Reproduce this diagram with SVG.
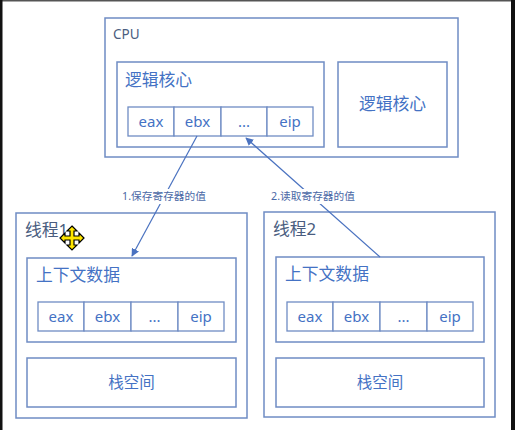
<svg xmlns="http://www.w3.org/2000/svg" width="515" height="430" viewBox="0 0 515 430">
<style>
.box{fill:#ffffff;stroke:#6F8CC4;stroke-width:1.5}
.cell{fill:#ffffff;stroke:#6F8CC4;stroke-width:1.3}
.t{font-family:"Noto Sans","Noto Sans CJK SC",sans-serif;fill:#4472C4}
.title{font-family:"Noto Sans","Noto Sans CJK SC",sans-serif;fill:#4A5D80}
.reg{font-size:15px;text-anchor:middle}
.lbl{font-family:"Noto Sans","Noto Sans CJK SC",sans-serif;font-size:10.7px;fill:#4A68A6;text-anchor:middle}
.conn{stroke:#4A72C0;stroke-width:1.2;fill:none}
</style>
<defs>
<marker id="ah" viewBox="0 0 10 10" refX="9" refY="5" markerWidth="8" markerHeight="8" orient="auto" markerUnits="userSpaceOnUse">
<path d="M0,0 L10,5 L0,10 z" fill="#4A72C0"/>
</marker>
</defs>
<rect x="0" y="0" width="515" height="430" fill="#ffffff"/>
<rect x="0" y="0" width="515" height="1.5" fill="#555"/>
<rect x="0" y="0" width="2.5" height="430" fill="#111"/>
<rect x="511" y="0" width="4" height="430" fill="#111"/>

<g id="cpu">
<rect class="box" x="105" y="18" width="353" height="139"/>
<text class="title" x="113" y="39" font-size="13.5">CPU</text>
</g>
<g id="core1">
<rect class="box" x="117" y="62" width="207" height="85"/>
<text class="t" x="125" y="86" font-size="16.8">逻辑核心</text>
<rect class="cell" x="128" y="107" width="46" height="29"/>
<rect class="cell" x="174" y="107" width="47" height="29"/>
<rect class="cell" x="221" y="107" width="46" height="29"/>
<rect class="cell" x="267" y="107" width="46" height="29"/>
<text class="t reg" x="151" y="127">eax</text>
<text class="t reg" x="197.5" y="127">ebx</text>
<text class="t reg" x="244" y="127">...</text>
<text class="t reg" x="290" y="127">eip</text>
</g>
<g id="core2">
<rect class="box" x="338" y="62" width="109" height="85"/>
<text class="t" x="392.5" y="110" font-size="16.8" text-anchor="middle">逻辑核心</text>
</g>

<g id="thread1">
<rect class="box" x="16" y="213" width="231" height="205"/>
<text class="title" x="25" y="236" font-size="16.8">线程1</text>
<rect class="box" x="27" y="258" width="209" height="84"/>
<text class="t" x="36" y="281" font-size="16.8">上下文数据</text>
<rect class="cell" x="38" y="302" width="46" height="29"/>
<rect class="cell" x="84" y="302" width="47" height="29"/>
<rect class="cell" x="131" y="302" width="47" height="29"/>
<rect class="cell" x="178" y="302" width="46" height="29"/>
<text class="t reg" x="61" y="322">eax</text>
<text class="t reg" x="107.5" y="322">ebx</text>
<text class="t reg" x="154.5" y="322">...</text>
<text class="t reg" x="201" y="322">eip</text>
<rect class="box" x="27" y="358" width="209" height="49"/>
<text class="t" x="131.5" y="388" font-size="15.5" text-anchor="middle">栈空间</text>
</g>

<g id="thread2">
<rect class="box" x="264" y="212" width="231" height="205"/>
<text class="title" x="273" y="235" font-size="16.8">线程2</text>
<rect class="box" x="276" y="257" width="208" height="85"/>
<text class="t" x="285" y="280" font-size="16.8">上下文数据</text>
<rect class="cell" x="287" y="302" width="46" height="29"/>
<rect class="cell" x="333" y="302" width="47" height="29"/>
<rect class="cell" x="380" y="302" width="47" height="29"/>
<rect class="cell" x="427" y="302" width="46" height="29"/>
<text class="t reg" x="310" y="322">eax</text>
<text class="t reg" x="356.5" y="322">ebx</text>
<text class="t reg" x="403.5" y="322">...</text>
<text class="t reg" x="450" y="322">eip</text>
<rect class="box" x="276" y="358" width="208" height="49"/>
<text class="t" x="380" y="388" font-size="15.5" text-anchor="middle">栈空间</text>
</g>

<g id="connectors">
<line class="conn" x1="197" y1="136" x2="132" y2="256" marker-end="url(#ah)"/>
<line class="conn" x1="380" y1="257" x2="246" y2="138" marker-end="url(#ah)"/>
<rect x="120" y="189" width="88" height="15" fill="#ffffff"/>
<rect x="269" y="189" width="88" height="15" fill="#ffffff"/>
<text class="lbl" x="164" y="200">1.保存寄存器的值</text>
<text class="lbl" x="313" y="200">2.读取寄存器的值</text>
</g>

<g id="cursor" transform="translate(72,238)">
<path d="M0,-12 L5,-7 L2,-7 L2,-2 L7,-2 L7,-5 L12,0 L7,5 L7,2 L2,2 L2,7 L5,7 L0,12 L-5,7 L-2,7 L-2,2 L-7,2 L-7,5 L-12,0 L-7,-5 L-7,-2 L-2,-2 L-2,-7 L-5,-7 Z" fill="#FFE600" stroke="#000" stroke-width="1.2" stroke-linejoin="miter"/>
</g>
</svg>
